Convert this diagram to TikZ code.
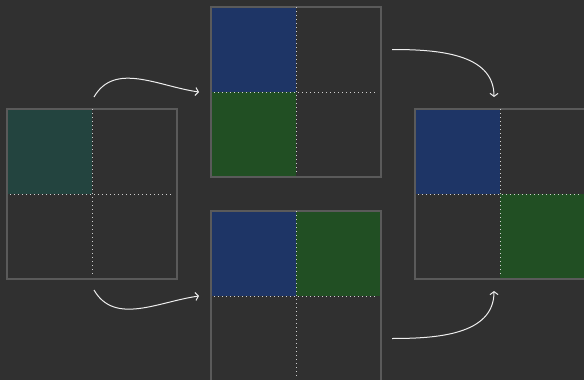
\documentclass[tikz,border=0pt]{standalone}
\usepackage{xcolor}
\definecolor{PageBg}   {HTML}{303030}
\definecolor{GridEdge} {HTML}{5A5A5A}
\definecolor{GridDot}  {HTML}{CFCFCF}
\definecolor{CellTeal} {HTML}{23443F}
\definecolor{CellBlue} {HTML}{1E3566}
\definecolor{CellGreen}{HTML}{214F23}
\definecolor{FlowLine} {HTML}{EEEEEE}
\usetikzlibrary{arrows.meta,positioning,calc}
\pgfdeclarelayer{back}
\pgfsetlayers{back,main}

\begin{document}
\begin{tikzpicture}[x=1pt,y=-1pt,
  grid/.style={draw=GridEdge,line width=1.2pt,minimum size=170pt,
    inner sep=0pt,outer sep=0pt},
  split/.style={GridDot,line width=1pt,dash pattern=on 1pt off 3pt},
  flow/.style={->,FlowLine,line width=1pt,
    >={Straight Barb[length=3pt,width=8pt]}}]
  \begin{pgfonlayer}{back}
    \fill[PageBg] (0,0) rectangle (584,380);
  \end{pgfonlayer}
  \useasboundingbox (0,0) rectangle (584,380);
  \node[grid] (G0) at (92,194) {};
  \node[grid] (G1) at (296,92) {};
  \node[grid] (G2) at (296,296) {};
  \node[grid] (G3) at (500,194) {};
  \begin{pgfonlayer}{back}
    \fill[CellTeal] (G0.north west) rectangle (G0.center);
    \fill[CellBlue] (G1.north west) rectangle (G1.center);
    \fill[CellGreen](G1.west) rectangle (G1.south);
    \fill[CellBlue] (G2.north west) rectangle (G2.center);
    \fill[CellGreen](G2.north) rectangle (G2.east);
    \fill[CellBlue] (G3.north west) rectangle (G3.center);
    \fill[CellGreen](G3.center) rectangle (G3.south east);
  \end{pgfonlayer}
  \foreach \g in {G0,G1,G2,G3}{
    \draw[split,shorten >=5pt] (\g.north) -- (\g.south);
    \draw[split,shorten <=3pt,shorten >=5pt] (\g.west) -- (\g.east);
  }
  \coordinate (s1) at ([xshift=2pt,yshift=12pt]G0.north);
  \coordinate (e1) at ([xshift=-12pt]G1.west);
  \coordinate (s2) at ([xshift=2pt,yshift=-11pt]G0.south);
  \coordinate (e2) at ([xshift=-12pt]G2.west);
  \coordinate (s3) at ($(G1.north east)!0.25!(G1.south east)+(11,0)$);
  \coordinate (e3) at ([xshift=-6pt,yshift=12pt]G3.north);
  \coordinate (s4) at ($(G2.north east)!0.75!(G2.south east)+(11,0)$);
  \coordinate (e4) at ([xshift=-6pt,yshift=-12pt]G3.south);
  \draw[flow] (s1) to[out=60,in=172] (e1);
  \draw[flow] (s2) to[out=-60,in=188] (e2);
  \draw[flow] (s3) to[out=0,in=90] (e3);
  \draw[flow] (s4) to[out=0,in=-90] (e4);
\end{tikzpicture}
\end{document}
